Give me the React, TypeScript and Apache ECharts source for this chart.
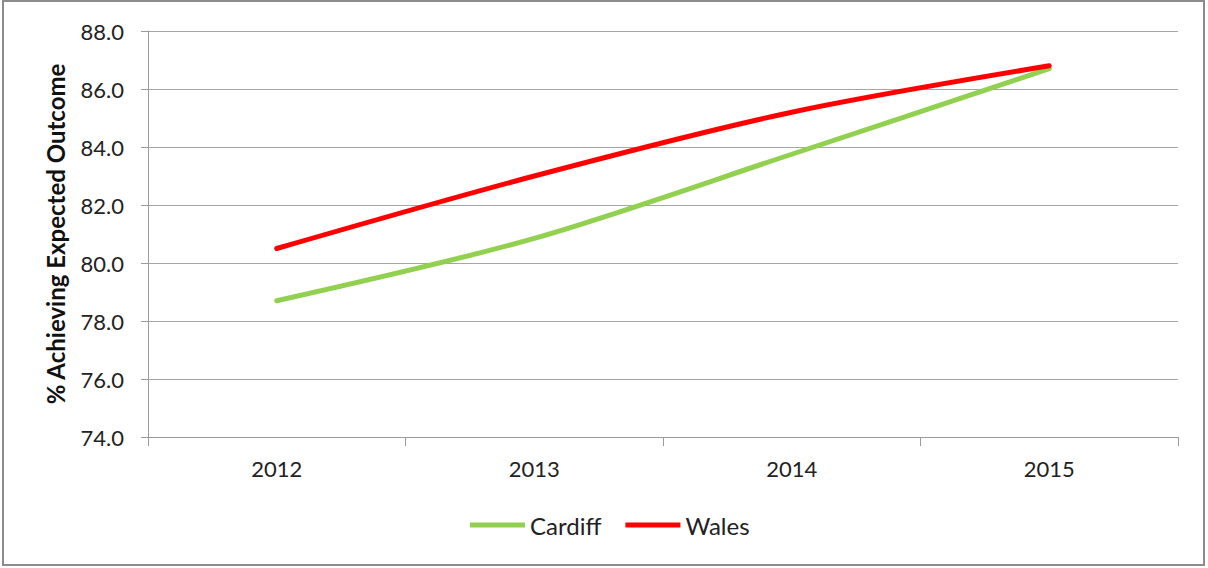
import React, { useEffect, useRef } from "react";
import * as echarts from "echarts";

const years = ["2012", "2013", "2014", "2015"];
const cardiff = [78.7, 80.85, 83.75, 86.7];
const wales = [80.5, 83.0, 85.2, 86.8];
const yMin = 74;
const yMax = 88;
const yStep = 2;

const FONT = "Lato, 'Open Sans', sans-serif";

export default function App() {
  const ref = useRef<HTMLDivElement>(null);
  useEffect(() => {
    const chart = echarts.init(ref.current!, null, { renderer: "svg" });
    chart.setOption({
      animation: false,
      backgroundColor: "#fff",
      textStyle: { fontFamily: FONT },
      graphic: [
        {
          type: "rect",
          shape: { x: 3, y: 1, width: 1201, height: 564 },
          style: { fill: "none", stroke: "#8c8c8c", lineWidth: 2 },
          silent: true,
        },
      ],
      grid: { left: 148, right: 30, top: 31, bottom: 131, containLabel: false },
      legend: {
        top: 513,
        left: 470,
        padding: 0,
        itemWidth: 55,
        itemHeight: 5,
        itemGap: 24,
        icon: "rect",
        textStyle: { fontSize: 24, color: "#222", fontFamily: FONT },
        data: ["Cardiff", "Wales"],
      },
      xAxis: {
        type: "category",
        data: years,
        boundaryGap: true,
        axisLine: { lineStyle: { color: "#9a9a9a", width: 1 } },
        axisTick: { show: true, length: 9, lineStyle: { color: "#9a9a9a" } },
        axisLabel: { fontSize: 22, color: "#222", margin: 20, fontFamily: FONT },
      },
      yAxis: {
        type: "value",
        min: yMin,
        max: yMax,
        interval: yStep,
        name: "% Achieving Expected Outcome",
        nameLocation: "middle",
        nameGap: 81,
        nameTextStyle: { fontSize: 24, fontWeight: "bold", color: "#111", fontFamily: FONT },
        axisLine: { show: true, lineStyle: { color: "#9a9a9a", width: 1 } },
        axisTick: { show: true, length: 7, lineStyle: { color: "#9a9a9a" } },
        axisLabel: {
          fontSize: 22,
          color: "#222",
          margin: 24,
          fontFamily: FONT,
          formatter: (v: number) => v.toFixed(1),
        },
        splitLine: { show: true, lineStyle: { color: "#a6a6a6", width: 1 } },
      },
      series: [
        {
          name: "Cardiff",
          type: "line",
          data: cardiff,
          smooth: 0.3,
          symbol: "none",
          lineStyle: { color: "#92D050", width: 5, cap: "round" },
          itemStyle: { color: "#92D050" },
        },
        {
          name: "Wales",
          type: "line",
          data: wales,
          smooth: 0.3,
          symbol: "none",
          lineStyle: { color: "#FF0000", width: 5, cap: "round" },
          itemStyle: { color: "#FF0000" },
        },
      ],
    });
    return () => chart.dispose();
  }, []);
  return (
    <div
      ref={ref}
      style={{ position: "absolute", left: 0, top: 0, width: 1208, height: 568 }}
    />
  );
}
